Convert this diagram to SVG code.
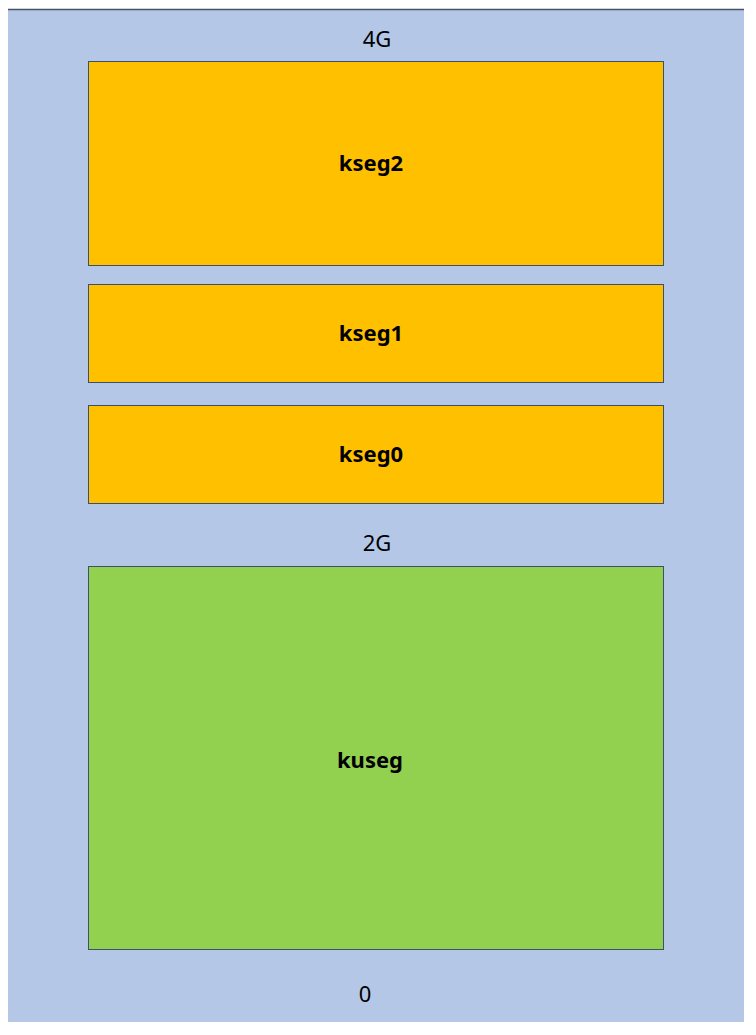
<svg xmlns="http://www.w3.org/2000/svg" width="756" height="1035" viewBox="0 0 756 1035">
<style>
.b{stroke:#3d4f6a;stroke-width:1}
.o{fill:#ffc000}
.g{fill:#92d050}
text{font-family:"Noto Sans","Liberation Sans",sans-serif;font-size:22px;text-anchor:middle;fill:#000}
.l{font-weight:bold}
</style>
<rect width="756" height="1035" fill="#fff"/>
<rect x="8" y="9.5" width="736" height="1012.5" fill="#b4c7e7"/>
<line x1="8" y1="9.5" x2="744" y2="9.5" stroke="#44546a" stroke-width="1.5"/>
<text x="377" y="47">4G</text>
<text x="377" y="551">2G</text>
<text x="365" y="1002">0</text>
<g id="kseg2"><rect class="b o" x="88.5" y="61.5" width="575" height="204"/><text class="l" x="371" y="171">kseg2</text></g>
<g id="kseg1"><rect class="b o" x="88.5" y="284.5" width="575" height="98"/><text class="l" x="371" y="341">kseg1</text></g>
<g id="kseg0"><rect class="b o" x="88.5" y="405.5" width="575" height="98"/><text class="l" x="371" y="462">kseg0</text></g>
<g id="kuseg"><rect class="b g" x="88.5" y="566.5" width="575" height="383"/><text class="l" x="370" y="768">kuseg</text></g>
<g id="connectors"/>
</svg>
